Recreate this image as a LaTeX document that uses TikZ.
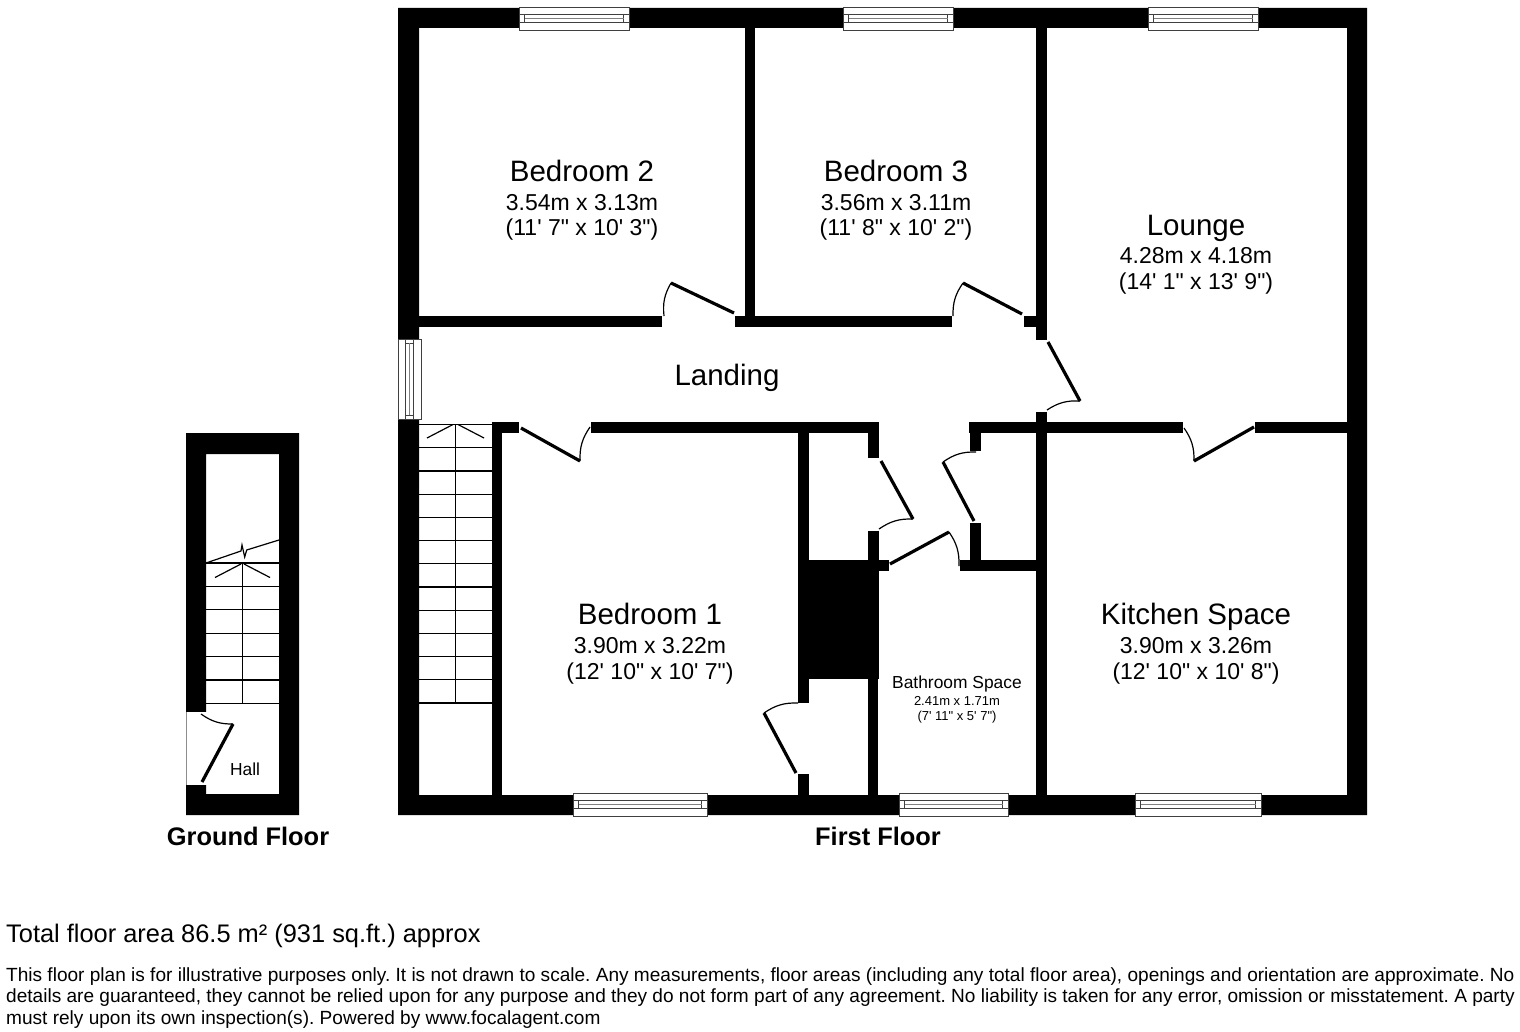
\documentclass[tikz,border=0pt]{standalone}
\usepackage{fontspec}
\setmainfont{Liberation Sans}
\newfontfamily\sizefont{Liberation Sans}[Ligatures=ResetAll]
\frenchspacing
\tikzset{
    wall/.style = {fill=black,draw=none},
    gap/.style = {fill=white,draw=none},
    winframe/.style = {draw=black!75,fill=white,line width=0.9pt},
    winpane/.style = {draw=black!75,line width=0.9pt},
    leaf/.style = {-,line width=3.2pt,black},
    swing/.style = {-,line width=1.2pt,black},
    tread/.style = {-,line width=1.2pt,black},
    roomname/.style = {font=\fontsize{29.5}{29.5}\selectfont,anchor=base,inner sep=0pt},
    roomsize/.style = {font=\sizefont\fontsize{23}{23}\selectfont,anchor=base,inner sep=0pt},
    floorname/.style = {font=\fontsize{25.4}{25.4}\selectfont\bfseries,anchor=base,inner sep=0pt},
    note/.style = {anchor=base west,inner sep=0pt}
}
\begin{document}
\begin{tikzpicture}[x=1pt,y=-1pt]
  \useasboundingbox (0,0) rectangle (1520,1032);
  \fill[white] (0,0) rectangle (1520,1032);
  % first floor shell
  \fill[wall,even odd rule] (398,8) rectangle (1367,815) (419,28) rectangle (1347,795);
  % inner walls
  \foreach \xa/\ya/\xb/\yb in {
    745/28/755/327, 419/316/662/327, 735/316/952/327, 1024/316/1047/327,
    1036/28/1047/340, 1036/412/1047/795,
    492/422/519/433, 492/422/502/795, 591/422/879/433, 969/422/1183/433, 1255/422/1347/433,
    798/433/809/703, 798/560/879/679, 868/422/879/458, 868/531/879/571, 868/560/889/571,
    970/433/981/451, 970/523/981/571, 960/560/1047/571, 868/679/878/795, 798/774/809/795} {
    \fill[wall] (\xa,\ya) rectangle (\xb,\yb);
  }
  % ground floor shell
  \fill[wall,even odd rule] (186,433) rectangle (299,815) (206,454) rectangle (279,794);
  \fill[gap] (187,712) rectangle (207,785);
  \draw[black!45,line width=0.6pt] (186.5,712) -- (186.5,785);
  % windows along top and bottom
  \foreach \xa/\xb/\ya in {519/629/7, 843/953/7, 1148/1258/7, 573/707/793, 899/1008/793, 1135/1261/793} {
    \draw[winframe] (\xa,\ya) rectangle (\xb,\ya+23);
    \draw[winpane] (\xa,\ya+7.5) -- (\xb,\ya+7.5) (\xa,\ya+15) -- (\xb,\ya+15);
    \draw[winpane] (\xa+5.5,\ya+7.5) rectangle (\xb-5.5,\ya+15);
    \draw[winpane,black!50] (\xa+5.5,\ya+11) -- (\xb-5.5,\ya+11);
  }
  % window in the landing
  \draw[winframe] (398,339) rectangle (421,419);
  \draw[winpane] (405.5,339) -- (405.5,419) (413,339) -- (413,419);
  \draw[winpane] (405.5,343) rectangle (413,415);
  \draw[winpane,black!50] (409,343) -- (409,415);
  % stairs
  \foreach \y in {0,...,12} {
    \draw[tread] (419,424.5+23.2*\y) -- (492,424.5+23.2*\y);
  }
  \draw[tread] (455.5,424.5) -- (455.5,703);
  \draw[tread] (453,424.5) -- (427,438) (458,424.5) -- (484,438);
  \foreach \y in {0,...,6} {
    \draw[tread] (206,563+23.4*\y) -- (279,563+23.4*\y);
  }
  \draw[tread] (242.5,563) -- (242.5,703);
  \draw[tread] (241,564) -- (215,577.5) (244,564) -- (270,577.5);
  \draw[tread] (206,563) -- (241,551) -- (242,545) -- (244.7,557) -- (246.7,550) -- (279,540);
  % doors
  \foreach \hinge/\tip/\stop/\side in {
    {734,313}/{671,283}/{664,316}/-18,
    {1022,314}/{963,283}/{953,316}/-18,
    {1048,342}/{1080,401}/{1047,410}/-18,
    {881,461}/{913,519}/{879,529}/-18,
    {974,521}/{943,462}/{976,452}/18,
    {890,564}/{949,532}/{959,566}/18,
    {521,428}/{580,461}/{590,427}/18,
    {1254,427}/{1194,461}/{1184,428}/-18,
    {796,773}/{764,713}/{798,703}/18,
    {202,782}/{233,724}/{201,714}/18} {
    \draw[leaf] (\hinge) -- (\tip);
    \draw[swing] (\tip) to[bend left=\side] (\stop);
  }
  % room labels
  \node[roomname] (bed2) at (582,182) {Bedroom 2};
  \node[roomsize] (bed2a) at (582,211) {3.54m x 3.13m};
  \node[roomsize] (bed2b) at (582,236) {(11' 7" x 10' 3")};
  \node[roomname] (bed3) at (896,182) {Bedroom 3};
  \node[roomsize] (bed3a) at (896,211) {3.56m x 3.11m};
  \node[roomsize] (bed3b) at (896,236) {(11' 8" x 10' 2")};
  \node[roomname] (lounge) at (1196,236) {Lounge};
  \node[roomsize] (lounge1) at (1196,264) {4.28m x 4.18m};
  \node[roomsize] (lounge2) at (1196,290) {(14' 1" x 13' 9")};
  \node[roomname] (landing) at (727,385) {Landing};
  \node[roomname] (bed1) at (650,624) {Bedroom 1};
  \node[roomsize] (bed1a) at (650,653) {3.90m x 3.22m};
  \node[roomsize] (bed1b) at (650,679) {(12' 10" x 10' 7")};
  \node[roomname] (kitchen) at (1196,624) {Kitchen Space};
  \node[roomsize] (kitchen1) at (1196,653) {3.90m x 3.26m};
  \node[roomsize] (kitchen2) at (1196,679) {(12' 10" x 10' 8")};
  \node[anchor=base,inner sep=0pt,font=\fontsize{17.4}{17.4}\selectfont] (bath) at (957,688) {Bathroom Space};
  \node[anchor=base,inner sep=0pt,font=\fontsize{13}{13}\selectfont] (bath1) at (957,705) {2.41m x 1.71m};
  \node[anchor=base,inner sep=0pt,font=\sizefont\fontsize{13}{13}\selectfont] (bath2) at (957,720) {(7' 11" x 5' 7")};
  \node[anchor=base,inner sep=0pt,font=\fontsize{17.4}{17.4}\selectfont] (hall) at (245,775) {Hall};
  \node[floorname] (ground) at (248,845) {Ground Floor};
  \node[floorname] (first) at (878,845) {First Floor};
  % notes
  \node[note,font=\fontsize{25.4}{25.4}\selectfont] (total) at (6,942) {Total floor area 86.5 m² (931 sq.ft.) approx};
  \node[note,font=\fontsize{19.06}{19.06}\selectfont] (note1) at (6,981) {This floor plan is for illustrative purposes only. It is not drawn to scale. Any measurements, floor areas (including any total floor area), openings and orientation are approximate. No};
  \node[note,font=\fontsize{19.06}{19.06}\selectfont] (note2) at (6,1002) {details are guaranteed, they cannot be relied upon for any purpose and they do not form part of any agreement. No liability is taken for any error, omission or misstatement. A party};
  \node[note,font=\fontsize{19.06}{19.06}\selectfont] (note3) at (6,1024) {must rely upon its own inspection(s). Powered by www.focalagent.com};
\end{tikzpicture}
\end{document}
